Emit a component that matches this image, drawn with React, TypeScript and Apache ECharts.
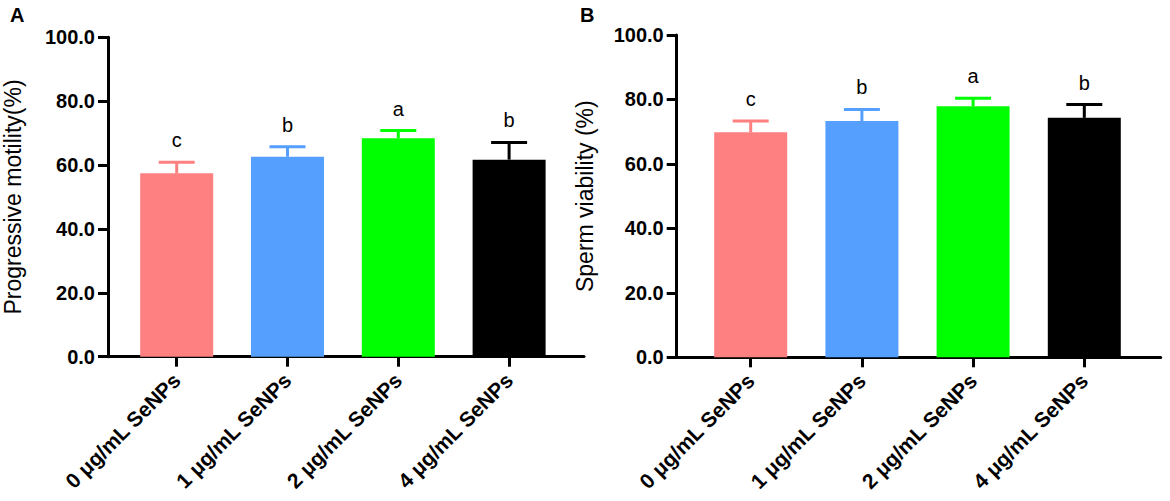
import React, { useEffect, useRef } from "react";
import * as echarts from "echarts";

const categories = ["0 μg/mL SeNPs", "1 μg/mL SeNPs", "2 μg/mL SeNPs", "4 μg/mL SeNPs"];
const barColors = ["#FF8080", "#559FFF", "#00FF00", "#000000"];

const motilityMean = [57.4, 62.6, 68.4, 61.7];
const motilitySD = [3.5, 3.1, 2.4, 5.4];
const motilityLetters = ["c", "b", "a", "b"];

const viabilityMean = [69.8, 73.3, 77.9, 74.3];
const viabilitySD = [3.5, 3.6, 2.5, 4.1];
const viabilityLetters = ["c", "b", "a", "b"];

const yMin = 0;
const yMax = 100;
const yInterval = 20;

const FONT = "'Liberation Sans', Arial, Helvetica, sans-serif";

function buildOption() {
  const panels = [
    {
      outer: { left: 102.7, top: 37.3, width: 481.3, height: 319.4 },
      inner: { left: 121.3, top: 37.3, width: 443.2, height: 319.4 },
      title: "Progressive motility(%)",
      nameGap: 84,
      mean: motilityMean,
      sd: motilitySD,
      letters: motilityLetters,
    },
    {
      outer: { left: 676.7, top: 35, width: 484, height: 322.3 },
      inner: { left: 695.1, top: 35, width: 444.8, height: 322.3 },
      title: "Sperm viability (%)",
      nameGap: 80,
      mean: viabilityMean,
      sd: viabilitySD,
      letters: viabilityLetters,
    },
  ];

  const grid: any[] = [];
  const xAxis: any[] = [];
  const yAxis: any[] = [];
  const series: any[] = [];

  panels.forEach((p) => {
    const outerIdx = grid.length;
    grid.push({ ...p.outer, containLabel: false });
    const innerIdx = grid.length;
    grid.push({ ...p.inner, containLabel: false });

    xAxis.push({
      gridIndex: outerIdx,
      type: "category",
      data: categories,
      axisLine: { show: true, lineStyle: { color: "#000", width: 3 } },
      axisTick: { show: false },
      axisLabel: { show: false },
      splitLine: { show: false },
    });
    yAxis.push({
      gridIndex: outerIdx,
      type: "value",
      min: yMin,
      max: yMax,
      interval: yInterval,
      name: p.title,
      nameLocation: "middle",
      nameGap: p.nameGap,
      nameTextStyle: { fontFamily: FONT, fontSize: 23, color: "#000" },
      axisLine: { show: true, lineStyle: { color: "#000", width: 3 } },
      axisTick: { show: true, length: 10, lineStyle: { color: "#000", width: 3 } },
      axisLabel: {
        margin: 13,
        color: "#000",
        fontFamily: FONT,
        fontWeight: "bold",
        fontSize: 20,
        formatter: (v: number) => v.toFixed(1),
      },
      splitLine: { show: false },
    });

    const innerX = xAxis.length;
    xAxis.push({
      gridIndex: innerIdx,
      type: "category",
      data: categories,
      axisLine: { show: false },
      axisTick: { show: true, alignWithLabel: true, length: 10, lineStyle: { color: "#000", width: 3 } },
      axisLabel: {
        rotate: 45,
        margin: 20,
        interval: 0,
        color: "#000",
        fontFamily: FONT,
        fontWeight: "bold",
        fontSize: 21,
      },
      splitLine: { show: false },
    });
    const innerY = yAxis.length;
    yAxis.push({
      gridIndex: innerIdx,
      type: "value",
      min: yMin,
      max: yMax,
      interval: yInterval,
      show: false,
    });

    series.push({
      type: "bar",
      xAxisIndex: innerX,
      yAxisIndex: innerY,
      barWidth: 73,
      data: p.mean.map((v, i) => ({ value: v, itemStyle: { color: barColors[i] } })),
      z: 2,
    });

    series.push({
      type: "custom",
      xAxisIndex: innerX,
      yAxisIndex: innerY,
      clip: false,
      z: 3,
      data: p.mean.map((v, i) => [i, v, v + p.sd[i]]),
      renderItem: (params: any, api: any) => {
        const idx = params.dataIndex;
        const base = api.coord([api.value(0), api.value(1)]);
        const top = api.coord([api.value(0), api.value(2)]);
        const color = barColors[idx];
        const half = 18;
        return {
          type: "group",
          children: [
            {
              type: "line",
              shape: { x1: top[0], y1: base[1], x2: top[0], y2: top[1] },
              style: { stroke: color, lineWidth: 3 },
            },
            {
              type: "line",
              shape: { x1: top[0] - half, y1: top[1], x2: top[0] + half, y2: top[1] },
              style: { stroke: color, lineWidth: 3 },
            },
            {
              type: "text",
              x: top[0],
              y: top[1] - 22,
              style: {
                text: p.letters[idx],
                fill: "#000",
                font: `20px ${FONT}`,
                textAlign: "center",
                textVerticalAlign: "middle",
              },
            },
          ],
        };
      },
    });
  });

  return {
    animation: false,
    backgroundColor: "#fff",
    grid,
    xAxis,
    yAxis,
    series,
    graphic: [
      {
        type: "text",
        left: 10,
        top: 5,
        style: { text: "A", fill: "#000", font: `bold 20px ${FONT}` },
      },
      {
        type: "text",
        left: 580,
        top: 5,
        style: { text: "B", fill: "#000", font: `bold 20px ${FONT}` },
      },
    ],
  };
}

export default function App() {
  const ref = useRef<HTMLDivElement>(null);
  useEffect(() => {
    document.body.style.margin = "0";
    if (!ref.current) return;
    const chart = echarts.init(ref.current, null, { renderer: "svg" });
    chart.setOption(buildOption() as any);
    return () => chart.dispose();
  }, []);
  return <div ref={ref} style={{ width: 1170, height: 501 }} />;
}
